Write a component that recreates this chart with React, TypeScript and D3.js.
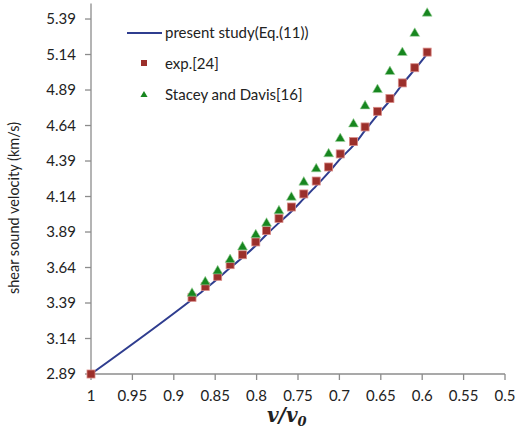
import React from 'react';
import * as d3 from 'd3';

// x = v/v0
const vRatio = [0.878, 0.862, 0.847, 0.832, 0.817, 0.801, 0.788, 0.773, 0.758, 0.743,
  0.728, 0.713, 0.699, 0.683, 0.669, 0.654, 0.639, 0.624, 0.609, 0.594];
const expVel = [3.43, 3.507, 3.578, 3.66, 3.73, 3.82, 3.90, 3.986, 4.066, 4.158,
  4.249, 4.348, 4.44, 4.527, 4.63, 4.74, 4.83, 4.94, 5.047, 5.157];
const staceyVel = [3.458, 3.538, 3.615, 3.695, 3.784, 3.87, 3.951, 4.038, 4.134, 4.24,
  4.334, 4.44, 4.547, 4.65, 4.777, 4.892, 5.019, 5.153, 5.288, 5.43];
const presentVel = [3.415, 3.488, 3.56, 3.638, 3.71, 3.795, 3.872, 3.955, 4.035, 4.125,
  4.215, 4.31, 4.405, 4.5, 4.605, 4.715, 4.815, 4.93, 5.035, 5.145];
const v0Point = {v: 1, vel: 2.89};

const xTicks = [1, 0.95, 0.9, 0.85, 0.8, 0.75, 0.7, 0.65, 0.6, 0.55, 0.5];
const yTicks = [2.89, 3.14, 3.39, 3.64, 3.89, 4.14, 4.39, 4.64, 4.89, 5.14, 5.39];

const W = 518, H = 431;
const font = "Lato, 'Open Sans', sans-serif";

export default function App() {
  const x = d3.scaleLinear().domain([1, 0.5]).range([91, 505]);
  const y = d3.scaleLinear().domain([2.89, 5.5]).range([374, 3.4]);

  const lineData = [{v: v0Point.v, vel: v0Point.vel}].concat(vRatio.map((v, i) => ({v, vel: presentVel[i]})));
  const line = d3.line<{v: number, vel: number}>().x(d => x(d.v)).y(d => y(d.vel)).curve(d3.curveMonotoneX);

  const expPts = [{v: v0Point.v, vel: v0Point.vel}].concat(vRatio.map((v, i) => ({v, vel: expVel[i]})));
  const triPts = vRatio.map((v, i) => ({v, vel: staceyVel[i]}));
  const tri = d3.symbol().type(d3.symbolTriangle).size(42)();

  const axisCol = '#8c8c8c';

  return (
    <svg width={W} height={H} style={{position: 'absolute', left: 0, top: 0, background: '#fff'}} fontFamily={font}>
      {/* axes */}
      <line x1={x(1)} x2={x(1)} y1={y(5.5)} y2={y(2.89)} stroke={axisCol} strokeWidth={1.3} />
      <line x1={x(1)} x2={x(0.5)} y1={y(2.89)} y2={y(2.89)} stroke={axisCol} strokeWidth={1.3} />
      {yTicks.map(t => (
        <g key={'y' + t}>
          <line x1={x(1) - 6} x2={x(1)} y1={y(t)} y2={y(t)} stroke={axisCol} strokeWidth={1.3} />
          <text x={x(1) - 15} y={y(t)} dy="0.35em" textAnchor="end" fontSize={15} fill="#222">{t.toFixed(2)}</text>
        </g>
      ))}
      {xTicks.map(t => (
        <g key={'x' + t}>
          <line x1={x(t)} x2={x(t)} y1={y(2.89)} y2={y(2.89) + 6} stroke={axisCol} strokeWidth={1.3} />
          <text x={x(t)} y={y(2.89) + 27} textAnchor="middle" fontSize={15} fill="#222">{String(t)}</text>
        </g>
      ))}
      <text transform={`translate(19,208) rotate(-90)`} textAnchor="middle" fontSize={14.5} fill="#222">shear sound velocity (km/s)</text>
      <text x={267} y={422} fontSize={20} fontStyle="italic" fontWeight="bold" fill="#222" fontFamily="'DejaVu Serif', serif">
        v/v<tspan fontSize={13} dy={4}>0</tspan>
      </text>

      {/* present study */}
      <path d={line(lineData) || ''} fill="none" stroke="#2f3d8f" strokeWidth={2} />
      {/* exp */}
      {expPts.map((d, i) => (
        <rect key={'e' + i} x={x(d.v) - 4} y={y(d.vel) - 4} width={8} height={8} fill="#9b2f2b" stroke="#d98a86" strokeWidth={0.8} />
      ))}
      {/* Stacey and Davis */}
      {triPts.map((d, i) => (
        <path key={'t' + i} d={tri || ''} transform={`translate(${x(d.v)},${y(d.vel)})`} fill="#17861f" stroke="#9fd49f" strokeWidth={0.6} />
      ))}

      {/* legend */}
      <line x1={127} x2={162} y1={33} y2={33} stroke="#2f3d8f" strokeWidth={2} />
      <text x={165} y={33} dy="0.35em" fontSize={15} fill="#222">present study(Eq.(11))</text>
      <rect x={141} y={60} width={6} height={6} fill="#9b2f2b" />
      <text x={165} y={64} dy="0.35em" fontSize={15} fill="#222">exp.[24]</text>
      <path d={d3.symbol().type(d3.symbolTriangle).size(22)() || ''} transform="translate(144,95)" fill="#17861f" />
      <text x={165} y={95} dy="0.35em" fontSize={15} fill="#222">Stacey and Davis[16]</text>
    </svg>
  );
}
